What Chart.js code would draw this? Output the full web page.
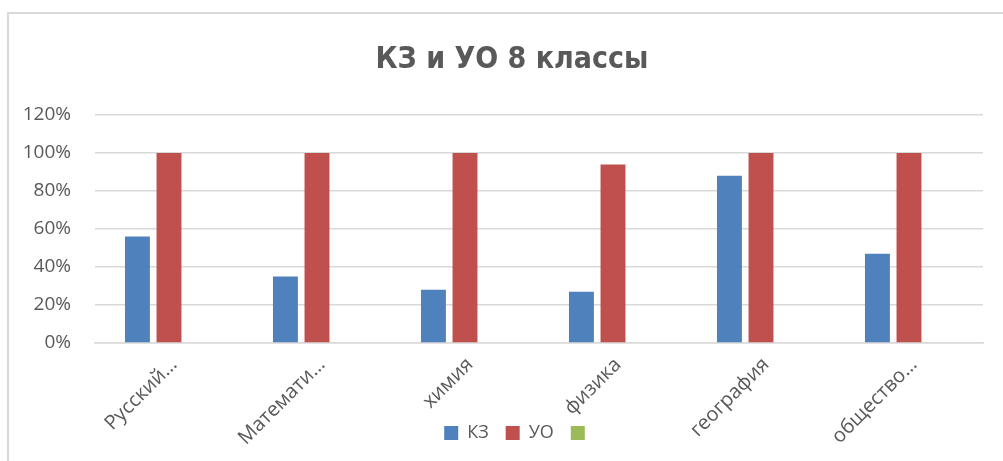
<!DOCTYPE html>
<html>
<head>
<meta charset="utf-8">
<script src="https://cdn.jsdelivr.net/npm/chart.js@4/dist/chart.umd.min.js"></script>
<style>
  html, body { margin: 0; padding: 0; background: #fff; overflow: hidden; width: 1003px; height: 461px; }
  #frame { position: absolute; left: 7px; top: 12px; width: 1100px; height: 600px; border: 2px solid #d9d9d9; box-sizing: border-box; }
  #wrap { position: absolute; left: 8px; top: 13px; width: 1008px; height: 448px; }
</style>
</head>
<body>
<div id="frame"></div>
<div id="wrap"><canvas id="c" width="1008" height="448"></canvas></div>
<script>
const titleText = "КЗ и УО 8 классы";
const categories = ["Русский…", "Математи…", "химия", "физика", "география", "общество…"];
const seriesNames = ["КЗ", "УО", ""];
const kzValues = [56, 35, 28, 27, 88, 47];
const uoValues = [100, 100, 100, 94, 100, 100];
const thirdValues = [null, null, null, null, null, null];
const yTicks = [0, 20, 40, 60, 80, 100, 120];

Chart.defaults.font.family = '"Open Sans", sans-serif';
Chart.defaults.color = '#595959';

// Let the title and legend span the whole (cropped) chart width, and let the
// legend overlap the rotated category labels as in the original.
const layoutTweak = {
  id: 'layoutTweak',
  afterLayout(chart) {
    const t = chart.titleBlock, l = chart.legend, x = chart.scales.x;
    t.left = 0; t.right = chart.width; t.width = chart.width;
    l.left = 7; l.right = chart.width + 7; l.width = chart.width;
    x.bottom = chart.height; x.height = x.bottom - x.top;
  }
};

new Chart(document.getElementById('c'), {
  type: 'bar',
  plugins: [layoutTweak],
  data: {
    labels: categories,
    datasets: [
      { label: seriesNames[0], data: kzValues, backgroundColor: '#4F81BD' },
      { label: seriesNames[1], data: uoValues, backgroundColor: '#C0504D' },
      { label: seriesNames[2], data: thirdValues, backgroundColor: '#9BBB59' }
    ]
  },
  options: {
    responsive: false,
    devicePixelRatio: 1,
    animation: false,
    layout: { padding: { left: 0, right: 33, top: 0, bottom: 9 } },
    datasets: { bar: { categoryPercentage: 0.64, barPercentage: 0.79 } },
    plugins: {
      title: {
        display: true,
        text: titleText,
        color: '#595959',
        font: { size: 30, weight: 'bold', family: '"DejaVu Sans Condensed", "DejaVu Sans", sans-serif' },
        padding: { top: 29, bottom: 37 }
      },
      legend: {
        position: 'bottom',
        labels: { boxWidth: 14, boxHeight: 14, padding: 17, color: '#595959', font: { size: 18 } }
      },
      tooltip: { enabled: false }
    },
    scales: {
      x: {
        grid: { display: false },
        border: { color: '#d9d9d9', width: 1.5 },
        ticks: { autoSkip: false, minRotation: 45, maxRotation: 45, color: '#595959', font: { size: 20 }, labelOffset: 5, padding: 2 },
        afterFit: (s) => { s.height = 64; }
      },
      y: {
        min: yTicks[0],
        max: yTicks[yTicks.length - 1],
        afterBuildTicks: (s) => { s.ticks = yTicks.map(v => ({ value: v })); },
        grid: { color: '#d9d9d9', lineWidth: 1.5, drawTicks: false },
        border: { display: false },
        ticks: { color: '#595959', font: { size: 19 }, padding: 24, callback: (v) => v + '%' },
        afterFit: (s) => { s.width = 87; }
      }
    }
  }
});
</script>
</body>
</html>
